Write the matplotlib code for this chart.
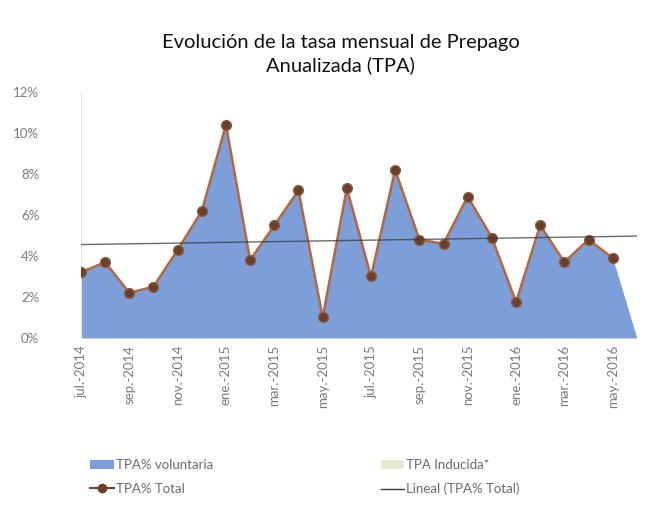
import numpy as np
import matplotlib
matplotlib.use("Agg")
import matplotlib.pyplot as plt
from matplotlib.lines import Line2D
from matplotlib.patches import Patch

plt.rcParams['font.family'] = ['Lato', 'DejaVu Sans']

# monthly categories jul-2014 .. jun-2016 (last one has no total value)
months = ['jul.-2014', 'ago.-2014', 'sep.-2014', 'oct.-2014', 'nov.-2014', 'dic.-2014',
          'ene.-2015', 'feb.-2015', 'mar.-2015', 'abr.-2015', 'may.-2015', 'jun.-2015',
          'jul.-2015', 'ago.-2015', 'sep.-2015', 'oct.-2015', 'nov.-2015', 'dic.-2015',
          'ene.-2016', 'feb.-2016', 'mar.-2016', 'abr.-2016', 'may.-2016', 'jun.-2016']

tpa_total = [3.2, 3.7, 2.2, 2.5, 4.3, 6.2, 10.4, 3.8, 5.5, 7.2, 1.0, 7.3,
             3.0, 8.2, 4.8, 4.6, 6.9, 4.9, 1.75, 5.5, 3.7, 4.8, 3.9]
tpa_voluntaria = [3.2, 3.7, 2.2, 2.5, 4.3, 6.2, 10.4, 3.8, 5.5, 7.2, 1.0, 7.3,
                  3.0, 8.2, 4.8, 4.6, 6.9, 4.9, 1.75, 5.5, 3.7, 4.8, 3.9, 0.0]
tpa_inducida = [0.0] * 24

area_col = '#7c9ed9'
line_col = '#b5673f'
mark_col = '#6b3f28'

fig = plt.figure(figsize=(6.61, 5.11), dpi=100)
ax = fig.add_axes([0.1225, 0.3386, 0.841, 0.4814])

x_all = np.arange(len(months))
vol = np.array(tpa_voluntaria) / 100
ind = np.array(tpa_inducida) / 100
ax.fill_between(x_all, 0, vol, color=area_col, lw=0)
ax.fill_between(x_all, vol, vol + ind, color='#e3ebcf', lw=0)

x_tot = np.arange(len(tpa_total))
tot = np.array(tpa_total) / 100
ax.plot(x_tot, tot, color=line_col, lw=1.8, marker='o', ms=7,
        markerfacecolor=mark_col, markeredgecolor='#8a5a3c', markeredgewidth=1, zorder=3)

# linear trend of the total
k, b = np.polyfit(x_tot, tot, 1)
ax.plot(x_all, k * x_all + b, color='#3a3a3a', lw=1, alpha=0.75, zorder=4)

ax.set_xlim(0, len(months) - 1)
ax.set_ylim(0, 0.12)
ax.set_yticks(np.arange(0, 0.121, 0.02))
ax.set_yticklabels(['%d%%' % v for v in range(0, 13, 2)])
ax.set_xticks(x_all[::2])
ax.set_xticklabels(months[::2], rotation=90)
ax.tick_params(axis='both', length=0, colors='#7a7a7a', labelsize=9.5)
ax.tick_params(axis='y', pad=30)
ax.tick_params(axis='x', pad=5)
for s in ['top', 'right', 'bottom']:
    ax.spines[s].set_visible(False)
ax.spines['left'].set_color('#e6e6e6')

fig.text(0.515, 0.894, 'Evolución de la tasa mensual de Prepago\nAnualizada (TPA)',
         ha='center', va='center', fontsize=14.5, fontweight='normal',
         color='#111111', linespacing=1.4)

h1 = [Patch(facecolor=area_col, edgecolor='none'),
      Line2D([], [], color=mark_col, marker='o', ms=6, markerfacecolor=mark_col)]
h2 = [Patch(facecolor='#e3ebcf', edgecolor='none'),
      Line2D([], [], color='#3a3a3a', lw=1)]
leg_kw = dict(frameon=False, fontsize=9.5, handlelength=1.8, handletextpad=0.15,
              labelspacing=0.9, labelcolor='#6a6a6a', loc='upper left')
fig.legend(h1, ['TPA% voluntaria', 'TPA% Total'], bbox_to_anchor=(0.118, 0.125), **leg_kw)
fig.legend(h2, ['TPA Inducida*', 'Lineal (TPA% Total)'], bbox_to_anchor=(0.558, 0.125), **leg_kw)

fig.savefig('out.png', dpi=100)
